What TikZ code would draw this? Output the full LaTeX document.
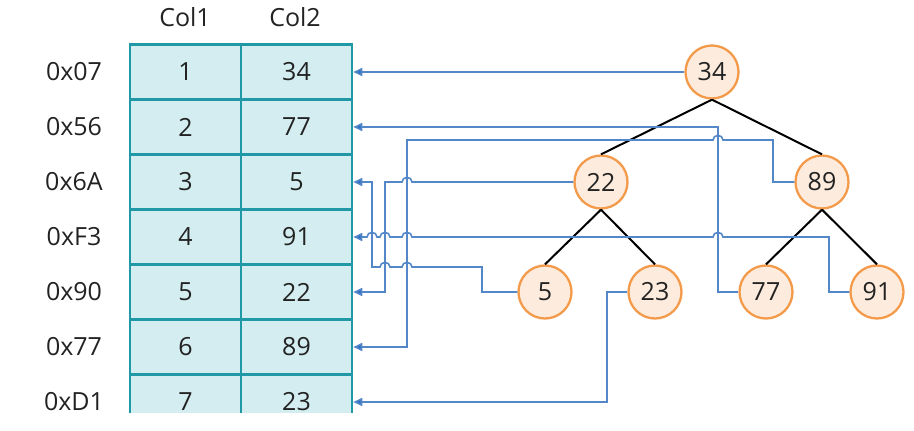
\documentclass[tikz,border=0pt]{standalone}
\usepackage{fontspec}
\setmainfont{Open Sans}
\usepackage{xcolor}
\usepackage{tikz}
\usetikzlibrary{positioning,arrows.meta,calc}
\definecolor{IdxTeal}{HTML}{2098A6}
\definecolor{IdxCell}{HTML}{D3EDF1}
\definecolor{IdxBlue}{HTML}{5487C8}
\definecolor{IdxTip}{HTML}{2A6FC4}
\definecolor{IdxOrange}{HTML}{F39A4B}
\definecolor{IdxPeach}{HTML}{FDEBDD}
\definecolor{IdxInk}{HTML}{222222}
% small hump where a link passes over a vertical link (path goes leftwards)
\newcommand{\hop}[2]{-- (#1+5,#2) .. controls (#1+5,#2-6) and (#1-5,#2-6) .. (#1-5,#2)}

\begin{document}
\begin{tikzpicture}[x=1pt,y=-1pt,
 cell/.style={draw=IdxTeal,line width=2.5pt,fill=IdxCell,minimum width=111pt,minimum height=55pt,inner sep=0pt,text=IdxInk,font=\fontsize{25}{27}\selectfont},
 addr/.style={text=IdxInk,font=\fontsize{25}{27}\selectfont},
 key/.style={circle,draw=IdxOrange,line width=2.3pt,fill=IdxPeach,minimum size=53pt,inner sep=0pt,text=IdxInk,font=\fontsize{25}{27}\selectfont},
 link/.style={draw=IdxBlue,line width=1.6pt,-{Triangle[length=9pt,width=8pt,fill=IdxTip]}},
 edge/.style={draw=black,line width=2pt}]
\useasboundingbox (0,0) rectangle (914,431);
% table
\node[addr] (h1) at (185,17) {Col1};
\node[addr] (h2) at (295,17) {Col2};
\begin{scope}
\clip (0,0) rectangle (914,412);
\foreach \a/\b [count=\i] in {1/34,2/77,3/5,4/91,5/22,6/89,7/23} {
  \node[cell] (c1\i) at (185.5,72+55*\i-55) {\a};
  \node[cell] (c2\i) at (296.5,72+55*\i-55) {\b};
}
\end{scope}
\foreach \t [count=\i] in {0x07,0x56,0x6A,0xF3,0x90,0x77,0xD1}
  \node[addr] (r\i) at (74,72+55*\i-55) {\t};
% tree
\node[key] (k34) at (712,72) {34};
\node[key] (k22) at (601,182) {22};
\node[key] (k89) at (822,182) {89};
\node[key] (k5) at (545,292) {5};
\node[key] (k23) at (655,292) {23};
\node[key] (k77) at (766,292) {77};
\node[key] (k91) at (877,292) {91};
\draw[edge] (k34.south) -- (k22.north);
\draw[edge] (k34.south) -- (k89.north);
\draw[edge] (k22.south) -- (k5.north);
\draw[edge] (k22.south) -- (k23.north);
\draw[edge] (k89.south) -- (k77.north);
\draw[edge] (k89.south) -- (k91.north);
% pointers back to the rows
\draw[link] (k34.west) -- (c21.east);
\draw[link] (k77.west) -| (718,127) -- (c22.east);
\draw[link] (k89.west) -| (773,140) \hop{718}{140} -- (407,140) |- (c26.east);
\draw[link] (k22.west) \hop{407}{182} -- (385,182) |- (c25.east);
\draw[link] (k5.west) -| (482,267) \hop{407}{267} \hop{385}{267} -- (372,267) |- (c23.east);
\draw[link] (k23.west) -| (607,402) -- (c27.east);
\draw[link] (k91.west) -| (829,237) \hop{718}{237} \hop{407}{237} \hop{385}{237} \hop{372}{237} -- (c24.east);
\end{tikzpicture}
\end{document}
